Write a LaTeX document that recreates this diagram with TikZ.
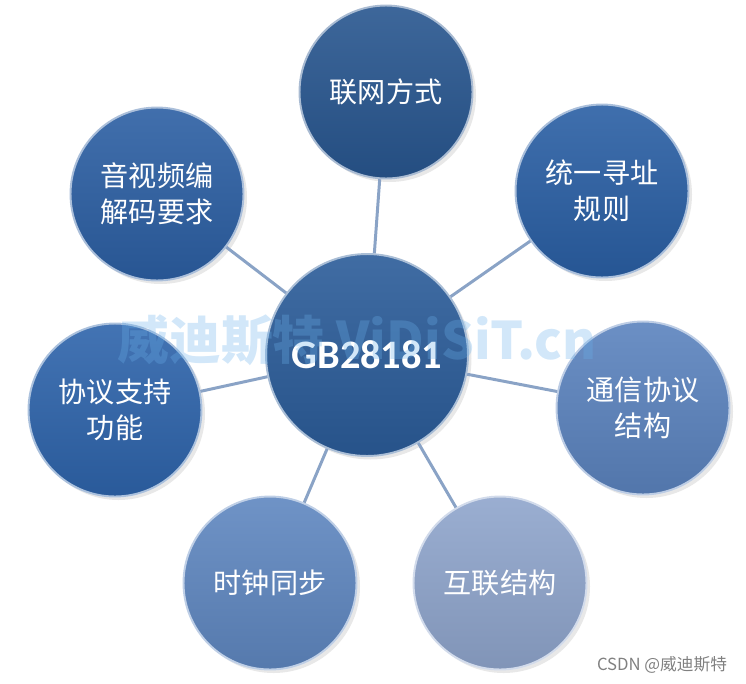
\documentclass[tikz,border=0pt]{standalone}
\usepackage{fontspec}
\setmainfont{Noto Sans CJK SC}
\newfontfamily\calib{Carlito}
\usepackage{tikz}
\usetikzlibrary{shapes,arrows,positioning,shadows}

\definecolor{hubblue}{HTML}{2B5C99}
\definecolor{netblue}{HTML}{28568F}
\definecolor{addrblue}{HTML}{2A5FA4}
\definecolor{protoblue}{HTML}{5B83BE}
\definecolor{interblue}{HTML}{8FA5CC}
\definecolor{clockblue}{HTML}{5F87C0}
\definecolor{funcblue}{HTML}{2E64AB}
\definecolor{codecblue}{HTML}{2C5FA3}
\definecolor{linkblue}{HTML}{8AA3C6}
\definecolor{markblue}{HTML}{6AB0EA}

\begin{document}
\begin{tikzpicture}[
    x=0.02cm, y=-0.02cm,
    ball/.style={circle, minimum size=3.46cm, inner sep=0pt, top color=#1!90!white, bottom color=#1!90!black, draw=#1!40!white, line width=1.1pt, drop shadow={opacity=0.18, shadow xshift=2pt, shadow yshift=-2pt}, text=white, align=center, font=\fontsize{16}{20.5}\selectfont},
    hub/.style={ball=hubblue, minimum size=4.04cm, font=\calib\bfseries\fontsize{23}{26}\selectfont},
    link/.style={draw=linkblue, line width=1.7pt}
]
\useasboundingbox (0,0) rectangle (746,683);

% Centre
\node (gb) [hub] at (367,355) {GB28181};

% Topics round it
\node (net)   [ball=netblue]   at (386,92)  {联网方式};
\node (addr)  [ball=addrblue]  at (602,191) {统一寻址\\规则};
\node (proto) [ball=protoblue] at (643,408) {通信协议\\结构};
\node (inter) [ball=interblue] at (500,583) {互联结构};
\node (clock) [ball=clockblue] at (270,583) {时钟同步};
\node (func)  [ball=funcblue]  at (115,410) {协议支持\\功能};
\node (codec) [ball=codecblue] at (157,194) {音视频编\\解码要求};

% Links
\draw [link] (gb) -- (net);
\draw [link] (gb) -- (addr);
\draw [link] (gb) -- (proto);
\draw [link] (gb) -- (inter);
\draw [link] (gb) -- (clock);
\draw [link] (gb) -- (func);
\draw [link] (gb) -- (codec);

% Watermarks
\node (mark) [text=markblue, opacity=0.3, font=\bfseries\fontsize{29.5}{31}\selectfont] at (357,340) {威迪斯特 ViDiSiT.cn};
\node (csdn) [text=black!50, font=\fontsize{9.5}{11}\selectfont] at (662,665) {CSDN @威迪斯特};

\end{tikzpicture}
\end{document}
